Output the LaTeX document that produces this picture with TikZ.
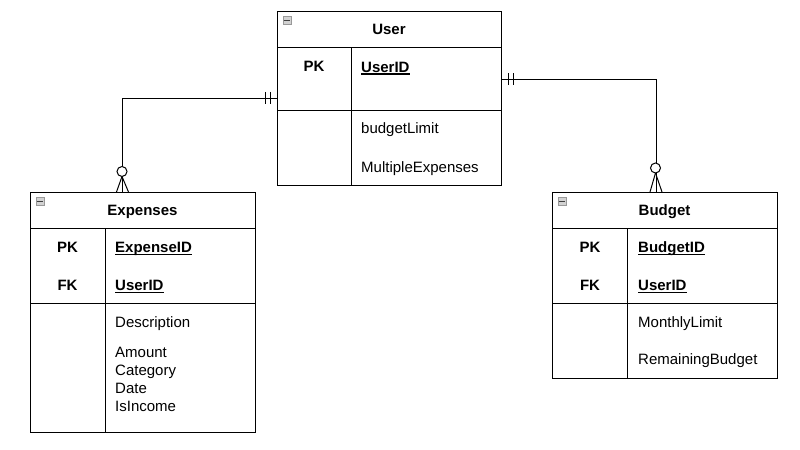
\documentclass[tikz,border=0pt]{standalone}
\usepackage{fontspec}
\setmainfont{Liberation Sans}
\newcommand\ulfield[1]{\setbox0\hbox{#1}\rlap{\rule[-2.2bp]{\wd0}{1.2bp}}\box0}
\begin{document}
\begin{tikzpicture}[x=1bp,y=-1bp,
  every node/.style={font=\fontsize{15bp}{18bp}\selectfont, inner sep=0pt},
  tbl/.style={draw, line width=1bp, anchor=north west, fill=white},
  sep/.style={line width=1bp},
  ttl/.style={font=\fontsize{15bp}{18bp}\selectfont\bfseries, anchor=base},
  keylbl/.style={font=\fontsize{15bp}{18bp}\selectfont\bfseries, anchor=base},
  fld/.style={anchor=base west},
  keyfld/.style={anchor=base west, font=\fontsize{15bp}{18bp}\selectfont\bfseries},
  icon/.style={draw=gray!80, fill=gray!35, minimum width=8bp, minimum height=8bp, anchor=north west, line width=0.7bp},
  conn/.style={line width=1bp},
  ring/.style={draw, fill=white, line width=1bp, circle, minimum size=10bp}
]
\useasboundingbox (0,0) rectangle (800,450);

% ---------- User ----------
\node[tbl, minimum width=224bp, minimum height=174bp] (user) at (277,11) {};
\draw[sep] (277,47.5) -- (501,47.5);
\draw[sep] (277,110.5) -- (501,110.5);
\draw[sep] (351,47.5) -- (351,185);
\node[icon] (userI) at (282.5,16.5) {};
\draw[line width=1.3bp, black!75] ([xshift=1.2bp]userI.west) -- ([xshift=-1.2bp]userI.east);
\node[ttl] (userT) at (389,34.3) {User};
\node[keylbl] (userPK) at (314,72) {PK};
\node[keyfld] (userID) at (361,72.5) {\ulfield{UserID}};
\node[fld] (userBL) at (361,134) {budgetLimit};
\node[fld] (userME) at (361,172.5) {MultipleExpenses};

% ---------- Expenses ----------
\node[tbl, minimum width=225bp, minimum height=240bp] (exp) at (30,192) {};
\draw[sep] (30,228.5) -- (255,228.5);
\draw[sep] (30,303.5) -- (255,303.5);
\draw[sep] (105,228.5) -- (105,432);
\node[icon] (expI) at (35.5,197.5) {};
\draw[line width=1.3bp, black!75] ([xshift=1.2bp]expI.west) -- ([xshift=-1.2bp]expI.east);
\node[ttl] (expT) at (142.5,216) {Expenses};
\node[keylbl] (expPK) at (67.5,252.7) {PK};
\node[keyfld] (expID) at (115,253) {\ulfield{ExpenseID}};
\node[keylbl] (expFK) at (67.5,291) {FK};
\node[keyfld] (expUID) at (115,291) {\ulfield{UserID}};
\node[fld] (expD) at (115,327.7) {Description};
\node[fld] (expA) at (115,357.7) {Amount};
\node[fld] (expC) at (115,375.5) {Category};
\node[fld] (expDt) at (115,393.3) {Date};
\node[fld] (expI2) at (115,411) {IsIncome};

% ---------- Budget ----------
\node[tbl, minimum width=225bp, minimum height=186bp] (bud) at (552,192) {};
\draw[sep] (552,228.5) -- (777,228.5);
\draw[sep] (552,303.5) -- (777,303.5);
\draw[sep] (627.5,228.5) -- (627.5,378);
\node[icon] (budI) at (557.5,197.5) {};
\draw[line width=1.3bp, black!75] ([xshift=1.2bp]budI.west) -- ([xshift=-1.2bp]budI.east);
\node[ttl] (budT) at (664.5,216) {Budget};
\node[keylbl] (budPK) at (590,252.7) {PK};
\node[keyfld] (budID) at (638,253) {\ulfield{BudgetID}};
\node[keylbl] (budFK) at (590,291) {FK};
\node[keyfld] (budUID) at (638,291) {\ulfield{UserID}};
\node[fld] (budML) at (638,327.7) {MonthlyLimit};
\node[fld] (budRB) at (638,365) {RemainingBudget};

% ---------- Connector User -> Expenses ----------
\coordinate (eTop) at ([xshift=-20.5bp]exp.north);
\draw[conn] (user.west) -| (eTop);
\draw[conn] (265,92) -- (265,104);
\draw[conn] (270,92) -- (270,104);
\coordinate (eApex) at (122,176.5);
\draw[conn] (eApex) -- ([xshift=-6bp]eTop);
\draw[conn] (eApex) -- ([xshift=6bp]eTop);
\node[ring] (eRing) at (122,171.5) {};

% ---------- Connector User -> Budget ----------
\coordinate (uR) at ([yshift=18.7bp]user.east);
\coordinate (bTop) at ([xshift=-9bp]bud.north);
\draw[conn] (uR) -| (bTop);
\draw[conn] (508,73.3) -- (508,85.3);
\draw[conn] (513,73.3) -- (513,85.3);
\coordinate (bApex) at (655.5,173);
\draw[conn] (bApex) -- ([xshift=-6bp]bTop);
\draw[conn] (bApex) -- ([xshift=6bp]bTop);
\node[ring] (bRing) at (655.5,168) {};
\end{tikzpicture}
\end{document}
